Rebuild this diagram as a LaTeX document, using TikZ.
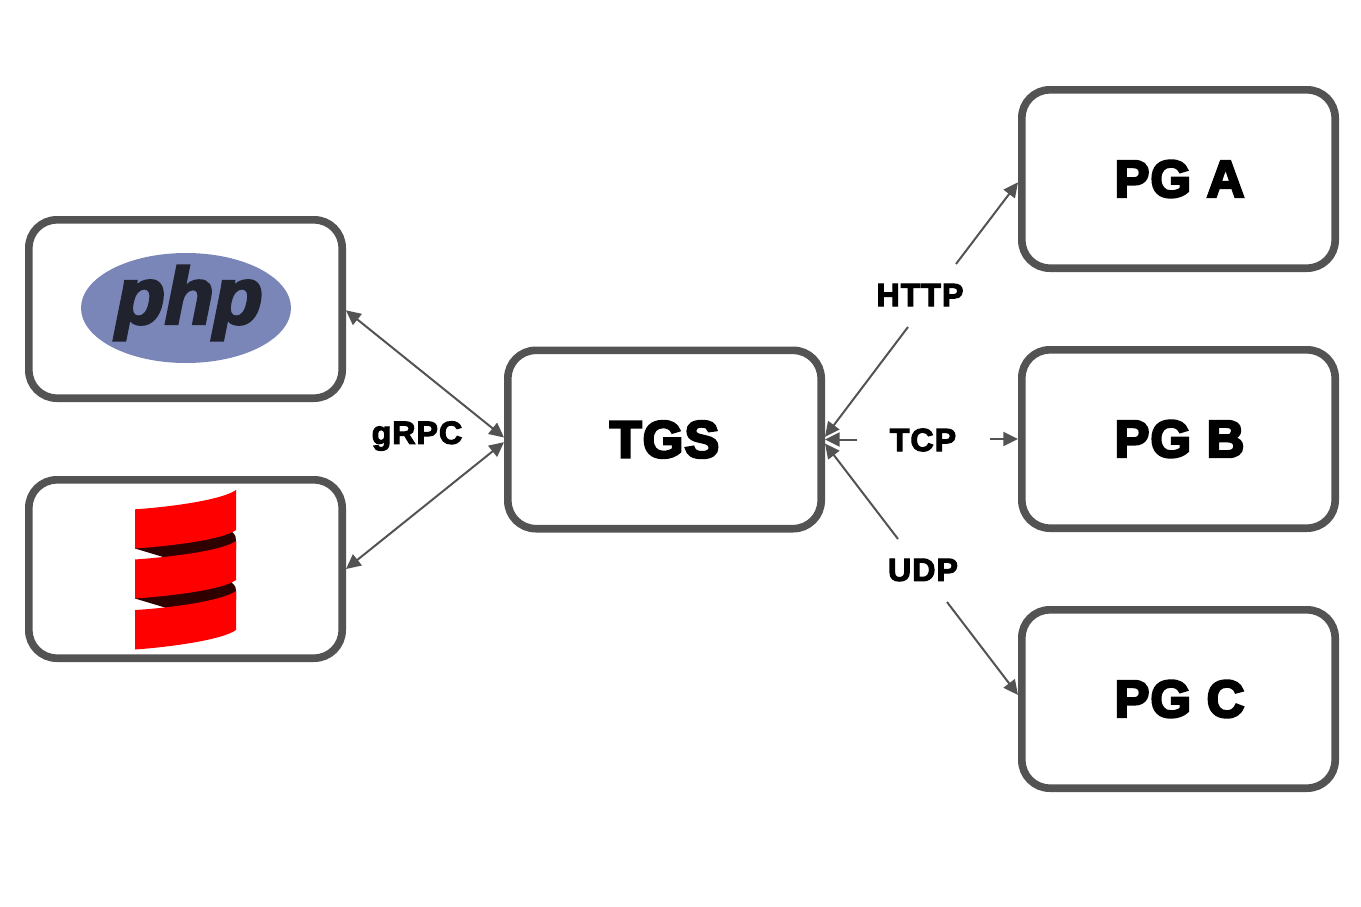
\documentclass[tikz,border=0pt]{standalone}
\usepackage{fontspec}
\setmainfont{Liberation Sans}
\newfontfamily\heavyfont[FakeBold=5,LetterSpace=2.5]{Liberation Sans Bold}
\newfontfamily\lblfont[FakeBold=3.6,LetterSpace=3.5]{Liberation Sans Bold}
\newfontfamily\logofont[FakeSlant=0.2,FakeBold=3.6]{Liberation Sans Bold}
\usetikzlibrary{arrows.meta}
\definecolor{edge}{HTML}{535353}
\definecolor{phpblue}{HTML}{7A86B8}
\definecolor{phpdark}{HTML}{20222E}
\definecolor{scalared}{HTML}{FF0000}
\definecolor{scaladark}{HTML}{2F0000}
\tikzset{
  box/.style={draw=edge,line width=5.75pt,rounded corners=21pt,minimum width=235pt,minimum height=133.75pt,inner sep=0pt,fill=white},
  bigtext/.style={font=\heavyfont\fontsize{39}{39}\selectfont,text=black,inner sep=0pt},
  lbl/.style={font=\lblfont\fontsize{24}{24}\selectfont,text=black,inner sep=0pt},
  conn/.style={draw=edge,line width=1.5pt},
  tip/.style={-{Triangle[length=11pt,width=10.5pt]}},
  tips/.style={{Triangle[length=11pt,width=10.5pt]}-{Triangle[length=11pt,width=10.5pt]}}
}
\begin{document}
\begin{tikzpicture}[x=0.75pt,y=-0.75pt]
\useasboundingbox (0,0) rectangle (1361,907);
\node[box] (php) at (185.5,309) {};
\node[box] (scala) at (185.5,569) {};
\node[box] (tgs) at (664.5,439.5) {};
\node[box] (pga) at (1178.5,179) {};
\node[box] (pgb) at (1178.5,439) {};
\node[box] (pgc) at (1178.5,699) {};
% php logo
\fill[phpblue] (186,308) ellipse [x radius=105,y radius=55];
\node[inner sep=0pt,text=phpdark,font=\logofont\fontsize{60}{60}\selectfont] (phptext) at (185,303) {php};
% scala logo
\fill[scaladark] (135,548.5) -- (135,530) -- (225,520) -- (232,532) .. controls (236,535) and (236,538) .. (236,541) -- (236,550) -- (165,565) -- (165,557.5) -- cycle;
\fill[scaladark] (135,598.5) -- (135,580) -- (225,570) -- (232,583) .. controls (236,586) and (236,589) .. (236,591) -- (236,600) -- (165,615) -- (165,607.5) -- cycle;
\fill[scalared] (135,509.3) .. controls (170,507) and (222,500) .. (236,490) -- (236,530) .. controls (222,540) and (170,546) .. (135,548.5) -- cycle;
\fill[scalared] (135,559.5) .. controls (170,557) and (222,551) .. (236,541) -- (236,580) .. controls (222,590) and (170,596) .. (135,598.5) -- cycle;
\fill[scalared] (135,610) .. controls (170,608) and (222,601) .. (236,591) -- (236,630) .. controls (222,640) and (170,647) .. (135,649.5) -- cycle;
% labels
\node[bigtext] (tgstext) at (664.5,439.5) {TGS};
\node[bigtext] (pgatext) at (1179.5,179) {PG A};
\node[bigtext] (pgbtext) at (1179.5,439) {PG B};
\node[bigtext] (pgctext) at (1179.5,699) {PG C};
\node[lbl] (grpc) at (417,436) {gRPC};
\node[lbl] (http) at (920,295) {HTTP};
\node[lbl] (tcp) at (923,440) {TCP};
\node[lbl] (udp) at (923,570) {UDP};
% free ends
\coordinate (httpa) at (908,327);
\coordinate (httpb) at (956,264);
\coordinate (tcpa) at (857,439.5);
\coordinate (tcpb) at (990,439);
\coordinate (udpa) at (898,539);
\coordinate (udpb) at (947,602);
% connectors
\draw[conn,tips] ([yshift=-1pt]php.east) -- ([yshift=1.5pt]tgs.west);
\draw[conn,tips] (scala.east) -- ([yshift=-2pt]tgs.west);
\draw[conn,tip] (httpa) -- ([yshift=2pt]tgs.east);
\draw[conn,tip] (httpb) -- ([yshift=-2.5pt]pga.west);
\draw[conn,tip] (tcpa) -- (tgs.east);
\draw[conn,tip] (tcpb) -- (pgb.west);
\draw[conn,tip] (udpa) -- ([yshift=-3pt]tgs.east);
\draw[conn,tip] (udpb) -- ([yshift=3pt]pgc.west);
\end{tikzpicture}
\end{document}
